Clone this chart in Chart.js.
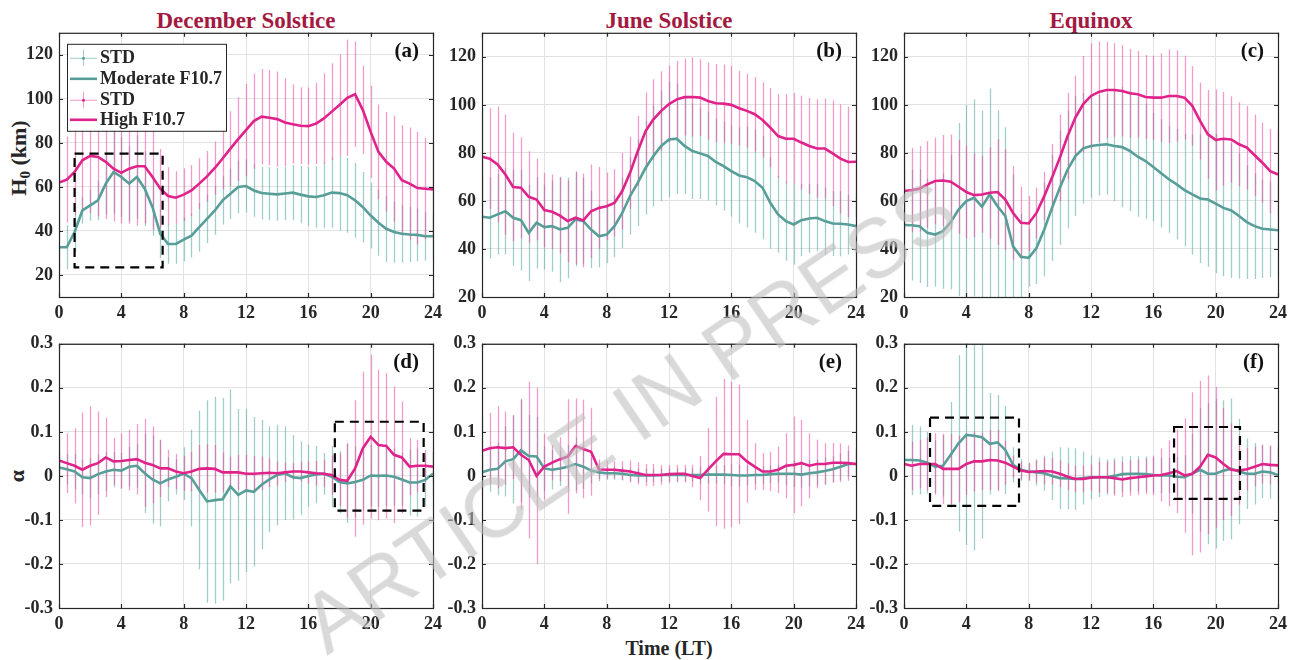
<!DOCTYPE html>
<html>
<head>
<meta charset="utf-8">
<script src="https://cdn.jsdelivr.net/npm/chart.js@4.4.1/dist/chart.umd.min.js"></script>
<style>
  html, body { margin: 0; padding: 0; background: #fff; }
  #fig { position: relative; width: 1299px; height: 660px; overflow: hidden;
         font-family: 'Liberation Serif', 'Times New Roman', serif; font-weight: bold; color: #262626; }
  .panel { position: absolute; }
  .title { position: absolute; transform: translate(-50%, -50%); font-size: 23px; color: #A3193F; white-space: nowrap; }
  .ylab { position: absolute; transform: translate(-50%, -50%) rotate(-90deg); font-size: 22px; white-space: nowrap; }
  .ylab sub { font-size: 15px; vertical-align: -4px; }
  .xlab { position: absolute; transform: translate(-50%, -50%); font-size: 20px; white-space: nowrap; }
  #wm { position: absolute; left: 327px; top: 585px; transform-origin: 0 71px; transform: rotate(-34.2deg);
        font-family: 'Liberation Sans', Arial, sans-serif; font-weight: normal; font-size: 84px; line-height: 84px;
        color: rgba(190, 190, 190, 0.58); white-space: nowrap; pointer-events: none; z-index: 10; }
</style>
</head>
<body>
<div id="fig">
  <div class="title" style="left:246px;top:21px">December Solstice</div>
  <div class="title" style="left:669px;top:21px">June Solstice</div>
  <div class="title" style="left:1091px;top:21px">Equinox</div>
  <div class="ylab" style="left:20px;top:158px">H<sub>0</sub> (km)</div>
  <div class="ylab" style="left:17px;top:476px">α</div>
  <div class="xlab" style="left:669px;top:648px">Time (LT)</div>
  <div id="wm">ARTICLE IN PRESS</div>
</div>
<script>
// local time (h)
const hours = [0, 0.5, 1, 1.5, 2, 2.5, 3, 3.5, 4, 4.5, 5, 5.5, 6, 6.5, 7, 7.5,
  8, 8.5, 9, 9.5, 10, 10.5, 11, 11.5, 12, 12.5, 13, 13.5, 14, 14.5, 15, 15.5,
  16, 16.5, 17, 17.5, 18, 18.5, 19, 19.5, 20, 20.5, 21, 21.5, 22, 22.5, 23, 23.5, 24];
const xTicks = [0, 4, 8, 12, 16, 20, 24];
const hTicks = [20, 40, 60, 80, 100, 120];
const aTicks = [-0.3, -0.2, -0.1, 0, 0.1, 0.2, 0.3];
const legendLabels = ['STD', 'Moderate F10.7', 'STD', 'High F10.7'];

// H0 (km) - December solstice
const decHigh = [62.0, 63.3, 66.8, 72.1, 74.1, 73.6, 71.4, 68.3,
  66.4, 68.3, 69.4, 69.4, 64.5, 59.2, 55.9, 55.1,
  56.5, 58.4, 61.5, 64.8, 68.6, 72.9, 77.4, 81.7,
  85.8, 89.9, 91.9, 91.4, 90.8, 89.3, 88.5, 87.8,
  87.6, 88.8, 91.1, 94.2, 97.2, 100.5, 102.1, 94.9,
  85.0, 75.9, 71.4, 68.3, 63.0, 61.5, 59.5, 59.2, 58.9];
const decHighStd = [19.5, 19.5, 19.5, 24, 26, 27, 26, 24,
  23, 25, 27, 26, 24, 18, 13, 12,
  12, 11.5, 11.5, 11.5, 12, 14, 17, 19,
  21, 21.5, 21.7, 21.7, 21.6, 20, 18, 17.5,
  17.5, 18.5, 20.5, 22, 23, 26.5, 24, 20,
  21, 21.5, 22.6, 24, 25, 25.5, 25.5, 23, 21];
const decMod = [32.6, 32.6, 39.5, 49.3, 51.6, 53.9, 61.5, 66.8,
  64.5, 61.5, 64.5, 59.2, 50.8, 38.7, 34.1, 34.1,
  36.1, 37.9, 41.7, 45.5, 49.3, 53.9, 56.9, 60.0,
  60.4, 58.4, 57.2, 56.9, 56.6, 57.0, 57.4, 56.5,
  55.7, 55.4, 56.2, 57.4, 57.2, 56.2, 53.9, 50.8,
  47.0, 43.7, 41.0, 39.5, 38.7, 38.4, 38.2, 37.6, 37.6];
const decModStd = [10, 10, 9, 6, 7, 9, 14, 19,
  18, 17, 19, 17, 13, 11, 9, 9,
  10, 10, 11, 11, 11, 11, 11.5, 12,
  12, 12, 12, 12, 12, 12, 12.5, 13,
  13.5, 14, 15, 16, 17, 17, 17, 16,
  15, 15, 15, 14, 13, 12.5, 12, 11, 10];

// H0 (km) - June solstice
const junHigh = [78.4, 77.6, 75.2, 71.0, 65.8, 65.5, 61.7, 60.6,
  56.2, 55.5, 53.9, 51.6, 53.0, 51.9, 55.7, 57.1,
  57.8, 59.2, 64.1, 71.7, 80.8, 89.1, 94.0, 97.5,
  100.3, 102.3, 103.2, 103.3, 103.0, 101.6, 100.7, 100.5,
  100.0, 98.6, 97.5, 96.1, 93.7, 90.5, 87.0, 85.9,
  85.9, 84.3, 82.9, 81.8, 81.8, 79.8, 77.6, 76.2, 76.3];
const junHighStd = [20.5, 21, 24, 25, 22.6, 21, 19, 17,
  15.5, 15.5, 15.8, 17, 19.4, 19.5, 19.5, 17,
  14, 14, 16, 15, 14.6, 16, 16.7, 16.5,
  16, 16, 16, 16.5, 16, 16, 16.3, 16.3,
  16.2, 15.5, 15.3, 15.5, 15.6, 16.5, 17.4, 18.5,
  19, 19.5, 20, 20.5, 20.8, 22, 22.7, 23, 23];
const junMod = [53.4, 53.0, 54.4, 55.7, 53.0, 52.0, 46.7, 50.9,
  49.1, 49.5, 48.1, 48.8, 52.3, 51.6, 48.1, 45.3,
  46.0, 49.5, 55.0, 62.0, 67.6, 73.8, 78.7, 82.9,
  85.6, 85.9, 82.9, 80.8, 79.8, 78.7, 76.2, 74.5,
  72.4, 70.6, 69.9, 68.3, 65.5, 59.2, 54.4, 51.6,
  50.2, 52.0, 52.7, 53.0, 51.6, 50.6, 50.5, 50.2, 49.5];
const junModStd = [17, 17, 16.7, 18, 20, 21, 20, 19,
  17.7, 19, 22, 21, 19.5, 18, 16, 13,
  12, 13, 14.6, 16, 18, 19.5, 21, 23,
  24, 23, 20, 20, 19, 18.5, 18, 18.5,
  19, 20, 21, 21.5, 21.5, 19, 16, 16.5,
  16.7, 15, 14.3, 14, 14, 13.5, 13.5, 12.5, 12];

// H0 (km) - Equinox
const equHigh = [64.1, 64.5, 65.1, 66.9, 68.3, 68.5, 68.0, 65.9,
  63.7, 62.4, 62.7, 63.4, 63.7, 60.6, 55.0, 50.9,
  50.6, 55.0, 62.0, 69.7, 78.0, 87.0, 94.7, 100.3,
  103.7, 105.4, 106.2, 106.2, 105.8, 104.8, 104.4, 103.3,
  103.0, 103.0, 103.7, 103.7, 103.0, 99.6, 93.3, 87.7,
  85.4, 85.9, 85.6, 83.6, 82.2, 79.0, 75.9, 72.4, 71.0];
const equHighStd = [17.4, 17.5, 17.8, 18, 18, 19, 19.7, 19.5,
  19.2, 17.5, 16, 19, 22, 21, 19.5, 15,
  11.5, 10.5, 10, 14, 18, 18, 17.4, 20,
  22, 21, 20, 19.5, 19, 18.5, 18, 17.5,
  17.4, 18.5, 19.5, 19, 17.4, 16.5, 16, 18.5,
  21, 19.5, 18, 17.5, 17.4, 17, 16.7, 17.5, 18];
const equMod = [50.0, 49.9, 49.5, 46.7, 46.0, 47.4, 51.2, 56.4,
  59.9, 61.3, 57.6, 62.7, 57.8, 53.7, 41.1, 36.7,
  36.3, 40.4, 48.1, 57.1, 65.5, 73.1, 78.7, 81.9,
  82.9, 83.3, 83.6, 82.9, 82.4, 80.8, 78.4, 76.6,
  74.1, 71.5, 69.0, 66.9, 64.5, 62.7, 61.0, 60.6,
  58.9, 57.1, 56.0, 53.7, 51.2, 49.5, 48.4, 48.1, 47.8];
const equModStd = [22.8, 23, 23.7, 22.5, 21.6, 24, 28, 36,
  40, 41, 40, 44, 40, 37, 30, 18,
  12, 15, 19.5, 22, 23.7, 24.5, 25, 23,
  21.6, 21, 21, 23, 25, 25, 25, 24,
  22.6, 22.5, 22.3, 23, 23.4, 25, 26.8, 28,
  29, 28.5, 28, 26, 23.7, 22, 20.5, 20, 19.2];

// alpha - December solstice
const decHighA = [0.035, 0.029, 0.023, 0.014, 0.023, 0.029, 0.042, 0.033,
  0.034, 0.036, 0.038, 0.030, 0.025, 0.017, 0.017, 0.010,
  0.006, 0.010, 0.016, 0.017, 0.016, 0.008, 0.008, 0.008,
  0.005, 0.005, 0.006, 0.007, 0.006, 0.008, 0.010, 0.010,
  0.008, 0.006, 0.005, 0.002, -0.009, -0.011, 0.017, 0.063,
  0.089, 0.070, 0.068, 0.048, 0.042, 0.021, 0.023, 0.023, 0.021];
const decHighAStd = [0.054, 0.068, 0.085, 0.13, 0.135, 0.117, 0.09, 0.053,
  0.063, 0.069, 0.08, 0.1, 0.087, 0.065, 0.042, 0.04,
  0.04, 0.045, 0.054, 0.055, 0.054, 0.045, 0.036, 0.04,
  0.043, 0.04, 0.038, 0.032, 0.027, 0.022, 0.019, 0.022,
  0.025, 0.028, 0.031, 0.045, 0.06, 0.085, 0.155, 0.174,
  0.186, 0.171, 0.165, 0.155, 0.127, 0.065, 0.059, 0.036, 0.034];
const decModA = [0.019, 0.015, 0.010, -0.003, -0.005, 0.004, 0.010, 0.014,
  0.012, 0.021, 0.023, 0.006, -0.008, -0.017, -0.008, -0.002,
  0.005, -0.005, -0.032, -0.058, -0.055, -0.053, -0.024, -0.043,
  -0.033, -0.036, -0.020, -0.008, 0.002, 0.006, -0.003, -0.005,
  0.000, 0.003, 0.005, -0.002, -0.014, -0.017, -0.014, -0.009,
  0.001, 0.000, 0.001, -0.002, -0.008, -0.015, -0.015, -0.009, 0.005];
const decModAStd = [0.03, 0.035, 0.04, 0.04, 0.045, 0.045, 0.045, 0.04,
  0.04, 0.045, 0.05, 0.09, 0.1, 0.098, 0.05, 0.04,
  0.06, 0.11, 0.18, 0.23, 0.235, 0.23, 0.22, 0.195,
  0.185, 0.17, 0.147, 0.12, 0.114, 0.106, 0.096, 0.083,
  0.07, 0.065, 0.047, 0.07, 0.07, 0.09, 0.08, 0.07,
  0.07, 0.07, 0.07, 0.065, 0.06, 0.075, 0.077, 0.06, 0.05];

// alpha - June solstice
const junHighA = [0.057, 0.063, 0.065, 0.063, 0.065, 0.048, 0.036, 0.000,
  0.021, 0.030, 0.038, 0.044, 0.068, 0.061, 0.055, 0.015,
  0.014, 0.014, 0.012, 0.010, 0.006, 0.002, 0.002, 0.002,
  0.004, 0.005, 0.005, 0.000, -0.005, 0.014, 0.033, 0.050,
  0.049, 0.049, 0.033, 0.021, 0.010, 0.010, 0.014, 0.023,
  0.025, 0.029, 0.023, 0.027, 0.027, 0.030, 0.030, 0.029, 0.027];
const junHighAStd = [0.078, 0.08, 0.093, 0.083, 0.072, 0.125, 0.178, 0.2,
  0.075, 0.04, 0.05, 0.13, 0.108, 0.112, 0.1, 0.022,
  0.02, 0.02, 0.022, 0.025, 0.025, 0.025, 0.025, 0.022,
  0.02, 0.02, 0.02, 0.025, 0.05, 0.095, 0.147, 0.17,
  0.165, 0.158, 0.094, 0.053, 0.042, 0.045, 0.053, 0.074,
  0.11, 0.098, 0.074, 0.055, 0.047, 0.045, 0.044, 0.04, 0.036];
const junModA = [0.008, 0.014, 0.016, 0.033, 0.038, 0.058, 0.045, 0.044,
  0.017, 0.014, 0.017, 0.021, 0.027, 0.021, 0.012, 0.008,
  0.006, 0.006, 0.005, 0.002, 0.001, 0.001, 0.001, 0.002,
  0.002, 0.002, 0.002, 0.002, 0.002, 0.003, 0.003, 0.003,
  0.002, 0.001, 0.001, 0.002, 0.002, 0.004, 0.005, 0.005,
  0.005, 0.003, 0.006, 0.008, 0.011, 0.015, 0.021, 0.027, 0.027];
const junModAStd = [0.04, 0.05, 0.06, 0.08, 0.1, 0.118, 0.094, 0.09,
  0.05, 0.045, 0.04, 0.05, 0.06, 0.05, 0.03, 0.02,
  0.015, 0.015, 0.015, 0.015, 0.015, 0.015, 0.015, 0.015,
  0.015, 0.015, 0.015, 0.015, 0.02, 0.02, 0.02, 0.022,
  0.025, 0.025, 0.022, 0.02, 0.02, 0.02, 0.02, 0.025,
  0.03, 0.03, 0.03, 0.03, 0.03, 0.03, 0.03, 0.03, 0.03];

// alpha - Equinox
const equHighA = [0.027, 0.023, 0.027, 0.027, 0.027, 0.016, 0.016, 0.016,
  0.027, 0.033, 0.033, 0.036, 0.035, 0.030, 0.021, 0.012,
  0.009, 0.010, 0.011, 0.010, 0.005, -0.002, -0.007, -0.007,
  -0.004, -0.003, -0.003, -0.005, -0.008, -0.005, -0.003, -0.001,
  0.001, 0.002, 0.006, 0.011, 0.001, 0.005, 0.021, 0.048,
  0.042, 0.027, 0.014, 0.012, 0.015, 0.021, 0.027, 0.025, 0.024];
const equHighAStd = [0.055, 0.055, 0.055, 0.06, 0.07, 0.08, 0.08, 0.075,
  0.07, 0.068, 0.065, 0.068, 0.07, 0.05, 0.025, 0.02,
  0.02, 0.025, 0.03, 0.03, 0.03, 0.03, 0.03, 0.03,
  0.03, 0.035, 0.035, 0.04, 0.04, 0.04, 0.04, 0.04,
  0.045, 0.06, 0.075, 0.095, 0.13, 0.185, 0.195, 0.18,
  0.16, 0.127, 0.105, 0.077, 0.048, 0.045, 0.044, 0.044, 0.044];
const equModA = [0.036, 0.036, 0.035, 0.030, 0.021, 0.023, 0.048, 0.074,
  0.093, 0.091, 0.088, 0.073, 0.076, 0.059, 0.025, 0.014,
  0.010, 0.008, 0.006, 0.000, -0.005, -0.006, -0.007, -0.005,
  -0.003, -0.003, -0.003, 0.000, 0.004, 0.005, 0.005, 0.004,
  0.002, 0.001, 0.001, -0.002, -0.003, 0.005, 0.014, 0.005,
  0.005, 0.012, 0.016, 0.010, 0.005, 0.005, 0.010, 0.008, 0.002];
const equModAStd = [0.085, 0.08, 0.077, 0.07, 0.06, 0.07, 0.12, 0.2,
  0.25, 0.26, 0.23, 0.115, 0.108, 0.1, 0.04, 0.025,
  0.02, 0.03, 0.04, 0.055, 0.07, 0.07, 0.07, 0.06,
  0.05, 0.045, 0.04, 0.04, 0.04, 0.04, 0.04, 0.04,
  0.04, 0.04, 0.04, 0.045, 0.05, 0.09, 0.14, 0.16,
  0.17, 0.16, 0.16, 0.12, 0.08, 0.07, 0.06, 0.06, 0.06];

// dashed boxes [x0, x1, y0, y1] in data units
const boxesA = [[1.0, 6.65, 23.5, 75.1]];
const boxesD = [[17.7, 23.4, -0.079, 0.123]];
const boxesF = [[1.67, 7.38, -0.068, 0.1325], [17.33, 21.56, -0.052, 0.111]];

const teal = '#579E99', tealBar = 'rgba(98, 170, 165, 0.6)';
const pink = '#E0228B', pinkBar = 'rgba(236, 70, 160, 0.55)';
const FONT = "'Liberation Serif', 'Times New Roman', serif";
const INK = '#262626';

// plot area geometry
const PW = 374, PH = 264, YW = 58, PR = 20, PT = 10, XH = 32;

const fmtH = v => String(v);
const fmtA = v => (v === 0 ? '0' : v.toFixed(1));

const panels = [
  { left: 59, top: 33, yMin: 10, yMax: 130, yTicks: hTicks, fmt: fmtH, high: decHigh, highStd: decHighStd, mod: decMod, modStd: decModStd, tag: '(a)', boxes: boxesA, legend: true },
  { left: 482, top: 33, yMin: 20, yMax: 130, yTicks: hTicks, fmt: fmtH, high: junHigh, highStd: junHighStd, mod: junMod, modStd: junModStd, tag: '(b)', boxes: [] },
  { left: 904, top: 33, yMin: 20, yMax: 130, yTicks: hTicks, fmt: fmtH, high: equHigh, highStd: equHighStd, mod: equMod, modStd: equModStd, tag: '(c)', boxes: [] },
  { left: 59, top: 344, yMin: -0.3, yMax: 0.3, yTicks: aTicks, fmt: fmtA, high: decHighA, highStd: decHighAStd, mod: decModA, modStd: decModAStd, tag: '(d)', boxes: boxesD },
  { left: 482, top: 344, yMin: -0.3, yMax: 0.3, yTicks: aTicks, fmt: fmtA, high: junHighA, highStd: junHighAStd, mod: junModA, modStd: junModAStd, tag: '(e)', boxes: [] },
  { left: 904, top: 344, yMin: -0.3, yMax: 0.3, yTicks: aTicks, fmt: fmtA, high: equHighA, highStd: equHighAStd, mod: equModA, modStd: equModAStd, tag: '(f)', boxes: boxesF }
];

// vertical std bars, teal first then magenta, clipped to the axes
const errorBars = {
  id: 'errorBars',
  beforeDatasetsDraw(chart) {
    const { ctx, chartArea: a, scales: { x, y } } = chart;
    ctx.save();
    ctx.beginPath();
    ctx.rect(a.left, a.top, a.right - a.left, a.bottom - a.top);
    ctx.clip();
    [1, 0].forEach(i => {
      const ds = chart.data.datasets[i];
      ctx.strokeStyle = ds.barColor;
      ctx.lineWidth = 1.3;
      ctx.beginPath();
      ds.data.forEach((p, j) => {
        const px = Math.round(x.getPixelForValue(p.x)) + 0.5;
        ctx.moveTo(px, y.getPixelForValue(p.y - ds.std[j]));
        ctx.lineTo(px, y.getPixelForValue(p.y + ds.std[j]));
      });
      ctx.stroke();
    });
    ctx.restore();
  }
};

function drawLegend(ctx, a) {
  const lx = a.left + 8, ly = a.top + 11, lw = 159, lh = 87;
  ctx.fillStyle = '#fff';
  ctx.fillRect(lx, ly, lw, lh);
  ctx.strokeStyle = INK;
  ctx.lineWidth = 1;
  ctx.strokeRect(lx + 0.5, ly + 0.5, lw, lh);
  const rows = [
    { bar: true, c: tealBar, lc: teal },
    { bar: false, c: teal },
    { bar: true, c: pinkBar, lc: pink },
    { bar: false, c: pink }
  ];
  const rowY = [14, 35, 56, 76];
  rows.forEach((r, i) => {
    const cy = ly + rowY[i], x0 = lx + 3, x1 = lx + 30, xm = (x0 + x1) / 2;
    if (r.bar) {
      ctx.strokeStyle = r.c; ctx.lineWidth = 1;
      ctx.beginPath();
      ctx.moveTo(x0, cy + 0.5); ctx.lineTo(x1, cy + 0.5);
      ctx.moveTo(xm, cy - 8); ctx.lineTo(xm, cy + 8);
      ctx.stroke();
      ctx.fillStyle = r.lc;
      ctx.beginPath(); ctx.arc(xm, cy + 0.5, 1.5, 0, Math.PI * 2); ctx.fill();
    } else {
      ctx.strokeStyle = r.c; ctx.lineWidth = 2.6;
      ctx.beginPath(); ctx.moveTo(x0, cy); ctx.lineTo(x1, cy); ctx.stroke();
    }
    ctx.fillStyle = INK;
    ctx.font = 'bold 18px ' + FONT;
    ctx.textAlign = 'left'; ctx.textBaseline = 'middle';
    ctx.fillText(legendLabels[i], lx + 33, cy + 1);
  });
}

// dashed boxes, axes frame, inward ticks, panel letter, legend
const panelExtras = {
  id: 'panelExtras',
  afterDraw(chart, args, opts) {
    const { ctx, chartArea: a, scales: { x, y } } = chart;
    ctx.save();
    ctx.strokeStyle = '#000';
    ctx.lineWidth = 2.2;
    ctx.setLineDash([9, 6]);
    opts.boxes.forEach(b => {
      const bx0 = x.getPixelForValue(b[0]), bx1 = x.getPixelForValue(b[1]);
      const by0 = y.getPixelForValue(b[2]), by1 = y.getPixelForValue(b[3]);
      ctx.strokeRect(bx0, by1, bx1 - bx0, by0 - by1);
    });
    ctx.setLineDash([]);

    ctx.strokeStyle = INK;
    ctx.lineWidth = 1.2;
    ctx.strokeRect(a.left + 0.5, a.top + 0.5, a.right - a.left, a.bottom - a.top);
    ctx.beginPath();
    xTicks.forEach(v => {
      const px = Math.round(x.getPixelForValue(v)) + 0.5;
      ctx.moveTo(px, a.bottom); ctx.lineTo(px, a.bottom - 4);
      ctx.moveTo(px, a.top); ctx.lineTo(px, a.top + 4);
    });
    opts.yTicks.forEach(v => {
      const py = Math.round(y.getPixelForValue(v)) + 0.5;
      ctx.moveTo(a.left, py); ctx.lineTo(a.left + 4, py);
      ctx.moveTo(a.right, py); ctx.lineTo(a.right - 4, py);
    });
    ctx.stroke();

    ctx.fillStyle = '#111';
    ctx.font = 'bold 21px ' + FONT;
    ctx.textAlign = 'right'; ctx.textBaseline = 'middle';
    ctx.fillText(opts.tag, a.right - 14, a.top + 19);

    if (opts.legend) drawLegend(ctx, a);
    ctx.restore();
  }
};

const toPoints = vals => hours.map((h, i) => ({ x: h, y: vals[i] }));

function makePanel(p) {
  const div = document.createElement('div');
  div.className = 'panel';
  const canvas = document.createElement('canvas');
  canvas.width = YW + PW + PR;
  canvas.height = PT + PH + XH;
  canvas.style.width = canvas.width + 'px';
  canvas.style.height = canvas.height + 'px';
  div.appendChild(canvas);
  document.getElementById('fig').appendChild(div);

  const tickFont = { family: FONT, size: 18, weight: 'bold' };
  const chart = new Chart(canvas.getContext('2d'), {
    type: 'line',
    data: {
      datasets: [
        { label: 'High F10.7', data: toPoints(p.high), std: p.highStd, barColor: pinkBar,
          borderColor: pink, borderWidth: 2.6, pointRadius: 0, tension: 0, order: 0 },
        { label: 'Moderate F10.7', data: toPoints(p.mod), std: p.modStd, barColor: tealBar,
          borderColor: teal, borderWidth: 2.6, pointRadius: 0, tension: 0, order: 1 }
      ]
    },
    options: {
      responsive: false,
      maintainAspectRatio: false,
      animation: false,
      layout: { padding: { top: PT, right: PR, left: 0, bottom: 0 } },
      plugins: {
        legend: { display: false },
        tooltip: { enabled: false },
        panelExtras: { tag: p.tag, boxes: p.boxes, legend: !!p.legend, yTicks: p.yTicks }
      },
      scales: {
        x: {
          type: 'linear', min: 0, max: 24,
          afterBuildTicks: s => { s.ticks = xTicks.map(v => ({ value: v })); },
          afterFit: s => { s.height = XH; },
          grid: { color: '#e2e2e2', drawTicks: false },
          border: { display: false },
          ticks: { font: tickFont, color: INK, padding: 6, maxRotation: 0, autoSkip: false }
        },
        y: {
          min: p.yMin, max: p.yMax,
          afterBuildTicks: s => { s.ticks = p.yTicks.map(v => ({ value: v })); },
          afterFit: s => { s.width = YW; },
          grid: { color: '#e2e2e2', drawTicks: false },
          border: { display: false },
          ticks: { font: tickFont, color: INK, padding: 6, autoSkip: false, callback: v => p.fmt(v) }
        }
      }
    },
    plugins: [errorBars, panelExtras]
  });

  // grow the canvas so the plot area gets exactly PW x PH, then place it
  let a = chart.chartArea;
  const dw = PW - (a.right - a.left), dh = PH - (a.bottom - a.top);
  if (Math.abs(dw) > 0.01 || Math.abs(dh) > 0.01) {
    chart.resize(Math.round(canvas.width + dw), Math.round(canvas.height + dh));
    a = chart.chartArea;
  }
  div.style.left = (p.left - a.left) + 'px';
  div.style.top = (p.top - a.top) + 'px';
}

panels.forEach(makePanel);
</script>
</body>
</html>
